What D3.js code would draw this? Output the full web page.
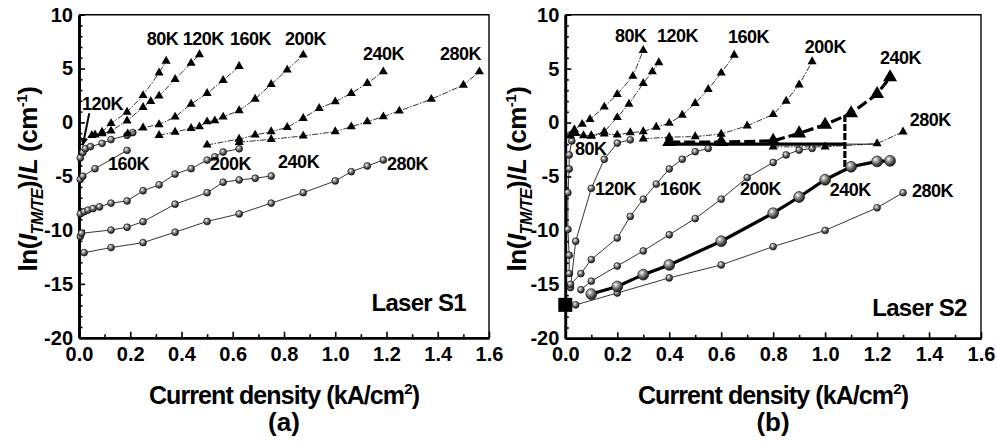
<!DOCTYPE html>
<html>
<head>
<meta charset="utf-8">
<script src="https://cdn.jsdelivr.net/npm/d3@7"></script>
<style>
body { margin: 0; background: #fff; }
svg { display: block; font-family: "Liberation Sans", Arial, sans-serif; font-weight: bold; }
</style>
</head>
<body>
<svg id="chart" width="997" height="445"></svg>
<script>
// axis ticks
var xTicks = [0, 0.2, 0.4, 0.6, 0.8, 1.0, 1.2, 1.4, 1.6];
var yTicks = [-20, -15, -10, -5, 0, 5, 10];

// ---- panel (a), laser S1 : [current density, ln(I_TM/TE)/L]
var a80T  = [[0.05,-1.2],[0.09,-0.9],[0.125,-0.1],[0.1875,0.95],[0.25,2.5],[0.3125,4.6],[0.34,5.7]];
var a120T = [[0.0625,-1.15],[0.09,-1.05],[0.125,-0.8],[0.1875,0.15],[0.25,1.4],[0.28,1.95],[0.3125,2.45],[0.375,4.0],[0.4375,5.5],[0.47,6.3]];
var a160T = [[0.19,-1.05],[0.25,-0.5],[0.3125,-0.2],[0.375,0.5],[0.4375,1.7],[0.5,2.7],[0.5625,3.9],[0.625,5.2]];
var a200T = [[0.3125,-1.2],[0.375,-0.9],[0.4375,-0.55],[0.47,-0.4],[0.5,0.06],[0.53,0.16],[0.5625,0.5],[0.625,1.1],[0.6875,2.17],[0.75,3.54],[0.8125,4.87],[0.875,6.26]];
var a240T = [[0.5,-2.1],[0.625,-1.55],[0.6875,-1.17],[0.75,-0.86],[0.8125,-0.46],[0.875,0.38],[0.9375,1.31],[1.0,1.92],[1.0625,2.7],[1.125,3.63],[1.1875,4.71]];
var a280T = [[0.625,-1.85],[0.75,-1.57],[0.875,-1.26],[1.0,-0.86],[1.0625,-0.4],[1.125,0.06],[1.1875,0.53],[1.25,1.06],[1.375,2.15],[1.5,3.47],[1.5625,4.71]];

var a120C = [[0.005,-3.3],[0.015,-2.8],[0.025,-2.45],[0.045,-2.25],[0.09,-1.95],[0.125,-1.6],[0.1875,-1.2],[0.21,-0.95]];
var a160C = [[0.005,-5.3],[0.015,-5.0],[0.0625,-4.3],[0.1875,-2.6]];
var a200C = [[0.005,-8.5],[0.02,-8.3],[0.035,-8.15],[0.055,-8.0],[0.08,-7.85],[0.125,-7.5],[0.1875,-7.3],[0.25,-6.35],[0.3125,-5.8],[0.375,-4.8],[0.4375,-4.3],[0.5,-3.5],[0.53,-3.2],[0.5625,-2.75],[0.625,-2.45]];
var a240C = [[0.005,-10.6],[0.01,-10.3],[0.125,-10.0],[0.1875,-9.74],[0.25,-9.22],[0.375,-7.6],[0.5,-6.53],[0.5625,-5.56],[0.625,-5.35],[0.6875,-5.19],[0.75,-4.98]];
var a280C = [[0.02,-12.1],[0.125,-11.63],[0.25,-11.17],[0.375,-10.2],[0.5,-9.2],[0.625,-8.5],[0.75,-7.5],[0.875,-6.53],[1.0,-5.44],[1.0625,-4.58],[1.125,-4.05],[1.1875,-3.49]];

var aLabels = [['80K',0.264,7.19],['120K',0.405,7.19],['160K',0.589,7.19],['200K',0.804,7.19],['240K',1.108,5.79],['280K',1.409,5.79],
               ['120K',0.012,1.15],['160K',0.113,-4.42],['200K',0.511,-4.42],['240K',0.777,-4.23],['280K',1.202,-4.42]];
var aArrow = [[0.04,0.85],[0.015,-2.1]];

// ---- panel (b), laser S2
var b80T  = [[0.02,-1.2],[0.035,-0.65],[0.065,-0.15],[0.095,0.3],[0.15,1.45],[0.2,2.62],[0.26,4.3],[0.3,6.7]];
var b120T = [[0.04,-1.0],[0.07,-1.2],[0.1,-1.25],[0.15,-0.85],[0.2,0.48],[0.245,1.72],[0.3,3.64],[0.335,4.72],[0.36,5.56]];
var b160T = [[0.1,-1.2],[0.15,-1.05],[0.2,-1.15],[0.25,-0.93],[0.3,-0.83],[0.35,-0.42],[0.4,-0.06],[0.45,0.69],[0.5,1.78],[0.55,3.08],[0.6,4.6],[0.65,6.26]];
var b200T = [[0.3,-1.5],[0.4,-1.35],[0.5,-1.3],[0.6,-1.06],[0.7,-0.3],[0.8,0.75],[0.85,2.0],[0.9,3.5],[0.95,5.65]];
var b240T = [[0.4,-1.8],[0.6,-1.8],[0.8,-1.7],[0.9,-1.0],[1.0,-0.2],[1.1,0.86],[1.2,2.65],[1.25,4.2]];
var b280T = [[0.8,-2.25],[1.0,-2.25],[1.2,-1.95],[1.3,-0.86]];

var b80C  = [[0.015,-14.0],[0.015,-12.3],[0.01,-9.9],[0.01,-6.5],[0.015,-4.3],[0.015,-3.0],[0.025,-1.7],[0.02,-1.15]];
var b120C = [[0.02,-15.3],[0.04,-11.0],[0.1,-6.1],[0.15,-3.4],[0.2,-1.9],[0.25,-1.6]];
var b160C = [[0.02,-15.0],[0.06,-14.0],[0.1,-12.7],[0.2,-10.7],[0.25,-8.7],[0.3,-7.1],[0.35,-5.7],[0.4,-4.3],[0.45,-3.4],[0.5,-2.7],[0.55,-2.4]];
var b200C = [[0.06,-15.5],[0.1,-14.7],[0.2,-13.3],[0.3,-11.9],[0.4,-10.4],[0.5,-8.9],[0.6,-7.1],[0.7,-5.1],[0.8,-3.7],[0.85,-3.0],[0.9,-2.55],[0.95,-2.4]];
var b240C = [[0.1,-15.9],[0.2,-15.2],[0.3,-14.1],[0.4,-13.2],[0.6,-11.0],[0.8,-8.4],[0.9,-6.9],[1.0,-5.3],[1.1,-4.1],[1.2,-3.6],[1.25,-3.55]];
var b280C = [[0.04,-16.9],[0.2,-15.8],[0.4,-14.4],[0.6,-13.2],[0.8,-11.5],[1.0,-10.0],[1.2,-7.9],[1.3,-6.5]];
var bSquare = [[0.0,-16.9]];

var bLabels = [['80K',0.191,7.47],['120K',0.353,7.47],['160K',0.626,7.38],['200K',0.922,6.45],['240K',1.211,5.43],['280K',1.326,-0.32],
               ['80K',0.037,-3.0],['120K',0.114,-6.71],['160K',0.364,-6.71],['200K',0.672,-6.71],['240K',1.018,-6.8],['280K',1.334,-6.9]];
// threshold guide lines in panel (b)
var bGuideH = [0.39, 1.076, 1.2, -2.0];   // x start, x end thick, x end thin, y
var bGuideV = [1.076, 0.7, -4.3];         // x, y top, y bottom

var svg = d3.select('#chart');

var defs = svg.append('defs');
var grad = defs.append('radialGradient').attr('id', 'ball')
    .attr('cx', 0.36).attr('cy', 0.33).attr('r', 0.72);
grad.append('stop').attr('offset', 0).attr('stop-color', '#ffffff');
grad.append('stop').attr('offset', 0.22).attr('stop-color', '#b8b8b8');
grad.append('stop').attr('offset', 0.62).attr('stop-color', '#575757');
grad.append('stop').attr('offset', 1).attr('stop-color', '#141414');
defs.append('marker').attr('id', 'arrow').attr('viewBox', '0 0 10 10')
    .attr('refX', 9).attr('refY', 5).attr('markerWidth', 4).attr('markerHeight', 4)
    .attr('orient', 'auto')
  .append('path').attr('d', 'M0,0L10,5L0,10z').attr('fill', '#000');

var xMinor = d3.range(1, 16, 2).map(d => d / 10);
var yMinor = d3.range(-19, 10).filter(d => d % 5 !== 0);

function drawPanel(xr, yr) {
  var x = d3.scaleLinear().domain([0, 1.6]).range(xr);
  var y = d3.scaleLinear().domain([-20, 10]).range(yr);
  var g = svg.append('g');

  g.append('path')
    .attr('d', 'M' + x(0) + ',' + y(10) + 'H' + x(1.6) + 'V' + y(-20))
    .attr('fill', 'none').attr('stroke', '#000').attr('stroke-width', 1.4);

  var xMin = g.append('g').attr('transform', 'translate(0,' + y(-20) + ')')
    .call(d3.axisBottom(x).tickValues(xMinor).tickSizeInner(-3.5).tickSizeOuter(0).tickFormat(''));
  var yMin = g.append('g').attr('transform', 'translate(' + x(0) + ',0)')
    .call(d3.axisLeft(y).tickValues(yMinor).tickSizeInner(-3.5).tickSizeOuter(0).tickFormat(''));
  var xAx = g.append('g').attr('transform', 'translate(0,' + y(-20) + ')')
    .call(d3.axisBottom(x).tickValues(xTicks).tickSizeInner(-6).tickSizeOuter(0).tickPadding(9).tickFormat(d3.format('.1f')));
  var yAx = g.append('g').attr('transform', 'translate(' + x(0) + ',0)')
    .call(d3.axisLeft(y).tickValues(yTicks).tickSizeInner(-6).tickSizeOuter(0).tickPadding(6).tickFormat(d => String(d)));

  [xMin, yMin, xAx, yAx].forEach(function (a) {
    a.selectAll('.tick line').attr('stroke', '#000').attr('stroke-width', 1.6);
    a.select('.domain').attr('stroke', '#000').attr('stroke-width', 2.6);
    a.selectAll('text').attr('fill', '#000').style('font-size', '20px').style('font-weight', 'bold')
      .style('font-family', '"Liberation Sans", Arial, sans-serif');
  });
  return { g: g, x: x, y: y };
}

function drawSeries(p, pts, kind, big, dashed) {
  var line = d3.line().x(d => p.x(d[0])).y(d => p.y(d[1]));
  p.g.append('path').datum(pts)
    .attr('d', line).attr('fill', 'none').attr('stroke', '#000')
    .attr('stroke-width', big ? 3.2 : 0.8)
    .attr('stroke-dasharray', big ? (dashed ? '11,4' : null) : (dashed ? '6,1.5,1.5,1.5' : null));
  if (kind === 'tri') {
    p.g.selectAll(null).data(pts).enter().append('path')
      .attr('d', d3.symbol(d3.symbolTriangle, big ? 85 : 36)())
      .attr('transform', d => 'translate(' + p.x(d[0]) + ',' + p.y(d[1]) + ')')
      .attr('fill', '#000');
  } else {
    p.g.selectAll(null).data(pts).enter().append('circle')
      .attr('cx', d => p.x(d[0])).attr('cy', d => p.y(d[1]))
      .attr('r', big ? 5.4 : 3.4)
      .attr('fill', 'url(#ball)').attr('stroke', '#111').attr('stroke-width', 0.7);
  }
}

function drawLabels(p, labels) {
  p.g.selectAll(null).data(labels).enter().append('text')
    .attr('x', d => p.x(d[1])).attr('y', d => p.y(d[2]))
    .style('font-size', '18px').style('letter-spacing', '-0.5px')
    .text(d => d[0]);
}

function yTitle(cx, cy) {
  var t = svg.append('text')
    .attr('transform', 'translate(' + cx + ',' + cy + ') rotate(-90)')
    .attr('text-anchor', 'middle').style('font-size', '26px').style('letter-spacing', '-0.5px');
  t.append('tspan').text('ln(');
  t.append('tspan').style('font-style', 'italic').text('I');
  t.append('tspan').attr('dy', 6).style('font-size', '16px').style('font-style', 'italic').text('TM/TE');
  t.append('tspan').attr('dy', -6).text(')/');
  t.append('tspan').style('font-style', 'italic').text('L');
  t.append('tspan').text(' (cm');
  t.append('tspan').attr('dy', -10).style('font-size', '15px').text('-1');
  t.append('tspan').attr('dy', 10).text(')');
}

function xTitle(cx, letter) {
  var t = svg.append('text').attr('x', cx).attr('y', 404)
    .attr('text-anchor', 'middle').style('font-size', '25px').style('letter-spacing', '-0.9px');
  t.append('tspan').text('Current density (kA/cm');
  t.append('tspan').attr('dy', -10).style('font-size', '15px').text('2');
  t.append('tspan').attr('dy', 10).text(')');
  svg.append('text').attr('x', cx).attr('y', 431)
    .attr('text-anchor', 'middle').style('font-size', '26px').text(letter);
}

// ---- panel (a)
var pa = drawPanel([79, 489], [337.7, 14.7]);
[a120C, a160C, a200C, a240C, a280C].forEach(s => drawSeries(pa, s, 'circ', false, false));
[a80T, a120T, a160T, a200T, a240T, a280T].forEach(s => drawSeries(pa, s, 'tri', false, true));
drawLabels(pa, aLabels);
pa.g.append('line')
  .attr('x1', pa.x(aArrow[0][0])).attr('y1', pa.y(aArrow[0][1]))
  .attr('x2', pa.x(aArrow[1][0])).attr('y2', pa.y(aArrow[1][1]))
  .attr('stroke', '#000').attr('stroke-width', 2).attr('marker-end', 'url(#arrow)');
pa.g.append('text').attr('x', pa.x(1.51)).attr('y', pa.y(-17.5)).attr('text-anchor', 'end')
  .style('font-size', '24px').style('letter-spacing', '-0.7px').text('Laser S1');

// ---- panel (b)
var pb = drawPanel([565.3, 981], [338.3, 14.7]);
pb.g.append('line')
  .attr('x1', pb.x(bGuideH[0])).attr('x2', pb.x(bGuideH[1]))
  .attr('y1', pb.y(bGuideH[3])).attr('y2', pb.y(bGuideH[3]))
  .attr('stroke', '#000').attr('stroke-width', 3.2);
pb.g.append('line')
  .attr('x1', pb.x(bGuideH[1])).attr('x2', pb.x(bGuideH[2]))
  .attr('y1', pb.y(bGuideH[3])).attr('y2', pb.y(bGuideH[3]))
  .attr('stroke', '#000').attr('stroke-width', 0.9);
pb.g.append('line')
  .attr('x1', pb.x(bGuideV[0])).attr('x2', pb.x(bGuideV[0]))
  .attr('y1', pb.y(bGuideV[1])).attr('y2', pb.y(bGuideV[2]))
  .attr('stroke', '#000').attr('stroke-width', 3.2).attr('stroke-dasharray', '7,2');
[b80C, b120C, b160C, b200C, b280C].forEach(s => drawSeries(pb, s, 'circ', false, false));
drawSeries(pb, b240C, 'circ', true, false);
[b80T, b120T, b160T, b200T, b280T].forEach(s => drawSeries(pb, s, 'tri', false, true));
drawSeries(pb, b240T, 'tri', true, true);
pb.g.selectAll(null).data(bSquare).enter().append('rect')
  .attr('x', d => pb.x(d[0]) - 7).attr('y', d => pb.y(d[1]) - 7)
  .attr('width', 14).attr('height', 14).attr('fill', '#000');
drawLabels(pb, bLabels);
pb.g.append('text').attr('x', pb.x(1.545)).attr('y', pb.y(-17.9)).attr('text-anchor', 'end')
  .style('font-size', '24px').style('letter-spacing', '-0.7px').text('Laser S2');

yTitle(37, 179);
yTitle(526, 179);
xTitle(284, '(a)');
xTitle(773, '(b)');
</script>
</body>
</html>
